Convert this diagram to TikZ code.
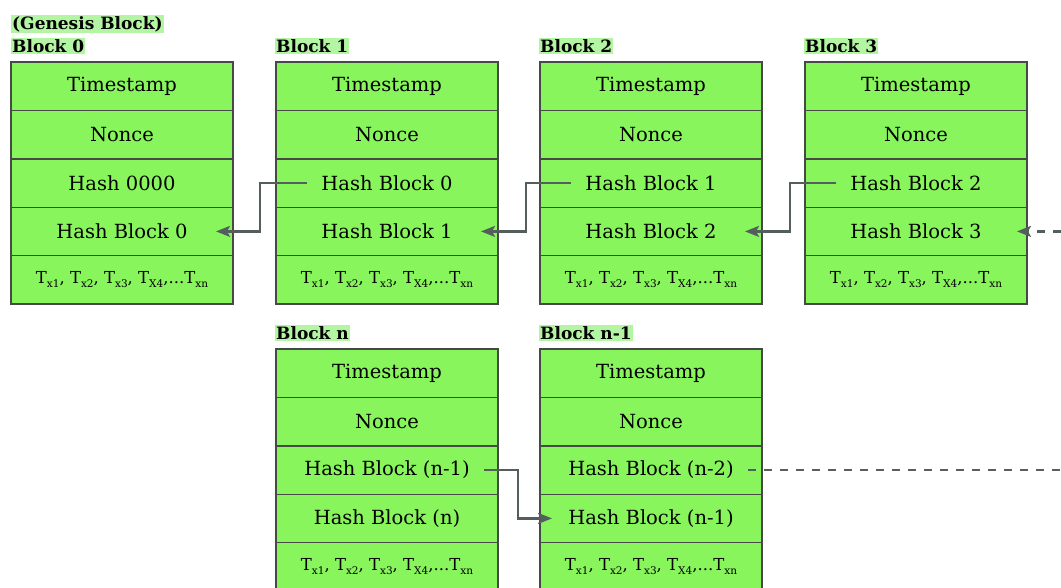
\documentclass[tikz,border=0pt]{standalone}
\usepackage{fontspec}
\setmainfont{DejaVu Serif}
\usetikzlibrary{arrows.meta}
\definecolor{cellgreen}{HTML}{88F55C}
\definecolor{taggreen}{HTML}{B4F5A4}
\definecolor{cellline}{HTML}{454A47}
\definecolor{linkgray}{HTML}{545E5C}

% one block of the chain: name, x, y, then the five field texts
\newcommand\chainblock[8]{%
  \node[cell] (#1-1) at (#2,#3) {#4};
  \node[cell, anchor=north] (#1-2) at (#1-1.south) {#5};
  \node[cell, anchor=north] (#1-3) at (#1-2.south) {#6};
  \node[cell, anchor=north] (#1-4) at (#1-3.south) {#7};
  \node[cell, anchor=north, font=\fontsize{16.5}{19}\selectfont] (#1-5) at (#1-4.south) {#8};
}
\newcommand\sbx[1]{\raisebox{-0.5ex}{\fontsize{10.5}{12}\selectfont #1}}
\newcommand\txlist{T\sbx{x1}, T\sbx{x2}, T\sbx{x3}, T\sbx{X4},...T\sbx{xn}}

\begin{document}
\begin{tikzpicture}[x=1pt,y=-1pt,
  cell/.style={draw=cellline, line width=1.4pt, fill=cellgreen,
    minimum width=222pt, minimum height=48.4pt, inner sep=0pt, outer sep=0pt,
    font=\fontsize{19.5}{22}\selectfont, anchor=north west},
  tag/.style={fill=taggreen, inner xsep=1pt, inner ysep=1.5pt,
    font=\bfseries\fontsize{17}{20}\selectfont, anchor=base west},
  link/.style={draw=linkgray, line width=2.2pt,
    -{Stealth[length=14pt,width=11pt,inset=3pt]}},
  dashlink/.style={link, dash pattern=on 8pt off 8pt}]

\useasboundingbox (0,0) rectangle (1061,587);

% block titles
\node[tag] (genesis) at (11,29) {(Genesis Block)};
\node[tag] (t0) at (11,52) {Block 0};
\node[tag] (t1) at (275,52) {Block 1};
\node[tag] (t2) at (539,52) {Block 2};
\node[tag] (t3) at (804,52) {Block 3};
\node[tag] (tn) at (275,339) {Block n};
\node[tag] (tn1) at (539,339) {Block n-1};

% upper row of blocks
\chainblock{b0}{11}{62}{Timestamp}{Nonce}{Hash 0000}{Hash Block 0}{\txlist}
\chainblock{b1}{276}{62}{Timestamp}{Nonce}{Hash Block 0}{Hash Block 1}{\txlist}
\chainblock{b2}{540}{62}{Timestamp}{Nonce}{Hash Block 1}{Hash Block 2}{\txlist}
\chainblock{b3}{805}{62}{Timestamp}{Nonce}{Hash Block 2}{Hash Block 3}{\txlist}

% lower row of blocks
\chainblock{bn}{276}{349}{Timestamp}{Nonce}{Hash Block (n-1)}{Hash Block (n)}{\txlist}
\chainblock{bm}{540}{349}{Timestamp}{Nonce}{Hash Block (n-2)}{Hash Block (n-1)}{\txlist}

% links from each stored previous hash to the block it points at
\draw[link] ([xshift=-80pt]b1-3.center) -- ([xshift=27pt]b0-3.east) |- ([xshift=94pt]b0-4.center);
\draw[link] ([xshift=-80pt]b2-3.center) -- ([xshift=28pt]b1-3.east) |- ([xshift=94pt]b1-4.center);
\draw[link] ([xshift=-80pt]b3-3.center) -- ([xshift=28pt]b2-3.east) |- ([xshift=94pt]b2-4.center);
\draw[link] ([xshift=97pt]bn-3.center) -- ([xshift=20pt]bn-3.east) |- ([xshift=12pt]bm-4.west);

% continuation of the chain beyond the visible blocks
\path (b3-4.center) ++(145pt,0) coordinate (moreA);
\path (bm-3.center) ++(410pt,0) coordinate (moreB);
\draw[dashlink] (moreA) -- ([xshift=101pt]b3-4.center);
\draw[dashlink, -] ([xshift=97pt]bm-3.center) -- (moreB);
\end{tikzpicture}
\end{document}
